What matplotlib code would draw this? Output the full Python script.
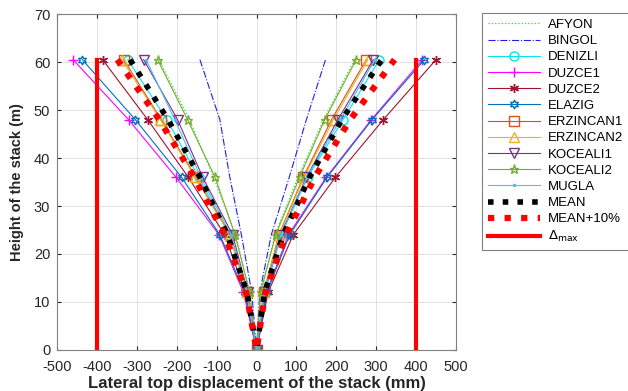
"""Lateral top displacement of the stack for each ground motion record."""

from matplotlib import pyplot as plt
import numpy as np

# heights (m), left branch from the top down, then right branch back up
heights = [60.5, 48, 36, 24, 12, 0, 12, 24, 36, 48, 60.5]

afyon = [-245, -168, -108, -52, -18, 0, 12, 46, 104, 168, 246]
bingol = [-142, -92, -67, -38, -12, 0, 8, 37, 82, 125, 173]
denizli = [-323, -225, -145, -68, -24, 0, 21, 62, 128, 217, 308]
duzce1 = [-460, -321, -202, -94, -33, 0, 25, 80, 175, 288, 416]
duzce2 = [-386, -273, -171, -80, -28, 0, 29, 92, 198, 318, 450]
elazig = [-437, -304, -188, -92, -30, 0, 26, 83, 177, 290, 421]
erzincan1 = [-333, -239, -152, -66, -25, 0, 18, 56, 117, 188, 275]
erzincan2 = [-338, -241, -154, -67, -25, 0, 18, 57, 119, 193, 279]
kocaeli1 = [-283, -198, -135, -60, -22, 0, 20, 60, 125, 204, 293]
kocaeli2 = [-248, -173, -104, -54, -17, 0, 10, 48, 108, 171, 250]
mugla = [-277, -205, -140, -64, -23, 0, 20, 61, 126, 210, 297]
mean = [-317, -222, -142, -73, -24, 0, 20, 67, 133, 214, 314]
mean_10 = [-349, -244, -156, -80, -26, 0, 22, 74, 146, 235, 346]

delta_max = 400

plt.rcParams['font.family'] = ['Liberation Sans', 'DejaVu Sans']
plt.rcParams['axes.unicode_minus'] = False
fig = plt.figure(figsize=(6.28, 3.91), dpi=100)
ax = fig.add_axes([0.091, 0.105, 0.635, 0.859])

thin = dict(linewidth=0.8, markersize=6.5, markerfacecolor='none')

ax.plot(afyon, heights, ':', color='#33dd33', linewidth=0.9, label='AFYON')
ax.plot(bingol, heights, '-.', color='#2020ee', linewidth=0.8, label='BINGOL')
ax.plot(denizli, heights, '-o', color='#00e5ee', label='DENIZLI', **thin)
ax.plot(duzce1, heights, '-+', color='#ff00ff', label='DUZCE1', **thin)
ax.plot(duzce2, heights, '-', marker=(6, 2, 0), color='#a2142f',
        label='DUZCE2', **thin)
ax.plot(elazig, heights, '-', marker=(6, 1, 0), color='#0072bd',
        label='ELAZIG', **thin)
ax.plot(erzincan1, heights, '-s', color='#d95319', label='ERZINCAN1', **thin)
ax.plot(erzincan2, heights, '-^', color='#edb120', label='ERZINCAN2', **thin)
ax.plot(kocaeli1, heights, '-v', color='#7e2f8e', label='KOCEALI1', **thin)
ax.plot(kocaeli2, heights, '-*', color='#77ac30', label='KOCEALI2', **thin)
ax.plot(mugla, heights, color='#4dbeee', linestyle='-', marker='.',
        linewidth=0.8, markersize=3, label='MUGLA')
ax.plot(mean, heights, ':', color='black', linewidth=4, label='MEAN')
ax.plot(mean_10, heights, ':', color='red', linewidth=4.5, label='MEAN+10%')
ax.plot([-delta_max, -delta_max], [0, heights[0]], color='red', linewidth=3,
        label=r'$\Delta_{\mathrm{max}}$')
ax.plot([delta_max, delta_max], [0, heights[0]], color='red', linewidth=3)

ax.set_xlim(-500, 500)
ax.set_ylim(0, 70)
ax.set_xticks(np.arange(-500, 501, 100))
ax.set_yticks(np.arange(0, 71, 10))
ax.grid(True, color='#dcdcdc', linewidth=0.6)
ax.set_axisbelow(True)
ax.tick_params(direction='in', top=True, right=True, length=3,
               labelsize=10.5, colors='#262626')
ax.tick_params(axis='x', pad=7)
ax.tick_params(axis='y', pad=5)
for spine in ax.spines.values():
    spine.set_color('#808080')
    spine.set_linewidth(0.8)

ax.set_xlabel('Lateral top displacement of the stack (mm)', fontsize=12,
              fontweight='bold', color='#262626', labelpad=2)
ax.set_ylabel('Height of the stack (m)', fontsize=10.5, fontweight='bold',
              color='#262626', labelpad=7)

leg = ax.legend(loc='upper left', bbox_to_anchor=(0.768, 0.967),
                bbox_transform=fig.transFigure, borderaxespad=0,
                fontsize=9.5, handlelength=3.9, labelspacing=0.3,
                fancybox=False, framealpha=1, edgecolor='#808080',
                borderpad=0.45, handletextpad=0.6)
leg.get_frame().set_linewidth(0.8)

fig.savefig('out.png', dpi=100)
